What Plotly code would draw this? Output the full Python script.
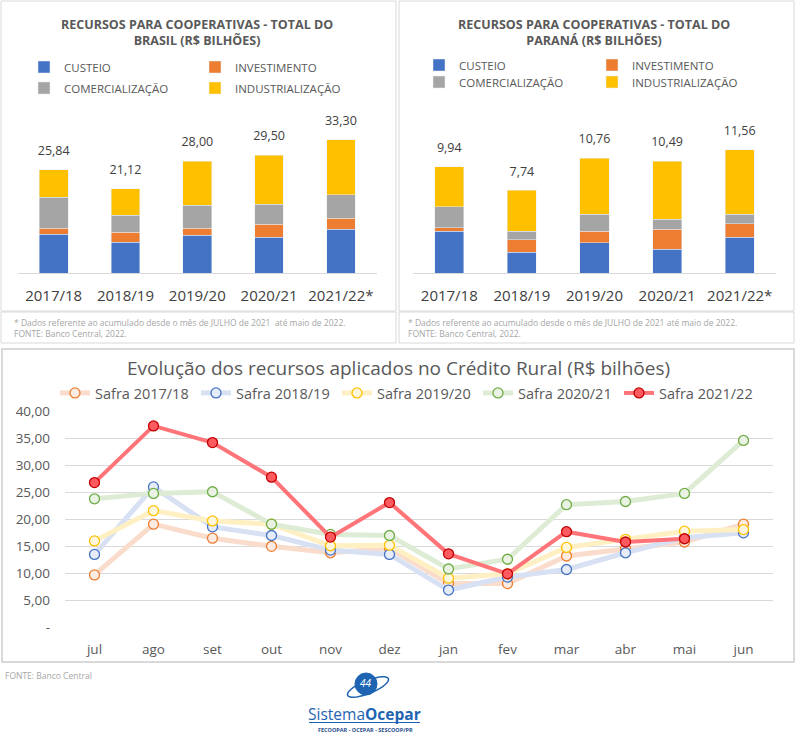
import plotly.graph_objects as go
import math

W, H = 798, 737
def X(p):
    return p / W
def Y(p):
    return 1 - p / H

# ---------------- data ----------------
seasons = ["2017/18", "2018/19", "2019/20", "2020/21", "2021/22*"]
cat_names = ["CUSTEIO", "INVESTIMENTO", "COMERCIALIZAÇÃO", "INDUSTRIALIZAÇÃO"]

br_custeio = [9.75, 7.67, 9.42, 9.00, 10.92]
br_invest = [1.42, 2.58, 1.75, 3.25, 2.75]
br_comerc = [7.83, 4.17, 5.75, 5.00, 5.92]
br_indust = [6.84, 6.70, 11.08, 12.25, 13.71]
br_total = [25.84, 21.12, 28.00, 29.50, 33.30]

pr_custeio = [3.91, 1.94, 2.84, 2.22, 3.34]
pr_invest = [0.34, 1.19, 1.07, 1.88, 1.29]
pr_comerc = [1.94, 0.78, 1.62, 0.93, 0.90]
pr_indust = [3.75, 3.83, 5.23, 5.46, 6.03]
pr_total = [9.94, 7.74, 10.76, 10.49, 11.56]

months = ["jul", "ago", "set", "out", "nov", "dez", "jan", "fev", "mar", "abr", "mai", "jun"]
safra_1718 = [9.7, 19.1, 16.5, 15.0, 13.8, 14.6, 8.1, 8.1, 13.2, 14.6, 15.8, 19.1]
safra_1819 = [13.5, 26.0, 18.6, 17.0, 14.3, 13.5, 6.9, 9.3, 10.7, 13.8, 16.6, 17.5]
safra_1920 = [16.0, 21.6, 19.7, 19.1, 15.1, 15.2, 9.1, 9.9, 14.8, 16.3, 17.8, 18.1]
safra_2021 = [23.8, 24.8, 25.1, 19.1, 17.2, 17.0, 10.8, 12.6, 22.7, 23.3, 24.8, 34.6]
safra_2122 = [26.8, 37.3, 34.2, 27.8, 16.7, 23.1, 13.6, 9.9, 17.7, 15.8, 16.4, None]
line_names = ["Safra 2017/18", "Safra 2018/19", "Safra 2019/20", "Safra 2020/21", "Safra 2021/22"]

y_tickvals = [0, 5, 10, 15, 20, 25, 30, 35, 40]
y_ticktext = ["-", "5,00", "10,00", "15,00", "20,00", "25,00", "30,00", "35,00", "40,00"]

# ---------------- styles ----------------
bar_colors = ["#4472C4", "#ED7D31", "#A5A5A5", "#FFC000"]
FONT = "Open Sans"
DARK = "#404040"
MID = "#595959"
LIGHT = "#A6A6A6"
BORDER = "#D9D9D9"

fig = go.Figure()

# ---- bar charts ----
br_series = [br_custeio, br_invest, br_comerc, br_indust]
pr_series = [pr_custeio, pr_invest, pr_comerc, pr_indust]
for i, (name, vals) in enumerate(zip(cat_names, br_series)):
    fig.add_trace(go.Bar(x=seasons, y=vals, name=name, marker_color=bar_colors[i],
                         xaxis="x", yaxis="y", legend="legend" if i < 2 else "legend2",
                         hoverinfo="skip"))
fig.add_trace(go.Scatter(x=seasons, y=br_total, mode="markers+text", xaxis="x", yaxis="y",
                         marker=dict(size=17, color="rgba(0,0,0,0)"),
                         texttemplate="%{y:.2f}", textposition="top center",
                         textfont=dict(size=12.5, color=DARK, family=FONT),
                         showlegend=False, hoverinfo="skip", cliponaxis=False))

for i, (name, vals) in enumerate(zip(cat_names, pr_series)):
    fig.add_trace(go.Bar(x=seasons, y=vals, name=name, marker_color=bar_colors[i],
                         xaxis="x2", yaxis="y2", legend="legend3" if i < 2 else "legend4",
                         hoverinfo="skip"))
fig.add_trace(go.Scatter(x=seasons, y=pr_total, mode="markers+text", xaxis="x2", yaxis="y2",
                         marker=dict(size=17, color="rgba(0,0,0,0)"),
                         texttemplate="%{y:.2f}", textposition="top center",
                         textfont=dict(size=12.5, color=DARK, family=FONT),
                         showlegend=False, hoverinfo="skip", cliponaxis=False))

# ---- line chart ----
line_series = [safra_1718, safra_1819, safra_1920, safra_2021, safra_2122]
line_colors = ["#F9DCCB", "#D7E1F3", "#FFF0C4", "#DEECD5", "#FF7478"]
marker_fill = ["#FCEBE0", "#E6EDF8", "#FFF7DD", "#EAF3E3", "#FF5A60"]
marker_edge = ["#ED7D31", "#4472C4", "#FFC000", "#70AD47", "#C00000"]
line_widths = [5, 5, 5, 5, 4]
for i, (name, vals) in enumerate(zip(line_names, line_series)):
    fig.add_trace(go.Scatter(x=months, y=vals, name=name, mode="lines+markers",
                             xaxis="x3", yaxis="y3", legend="legend5",
                             line=dict(color=line_colors[i], width=line_widths[i]),
                             marker=dict(size=10, color=marker_fill[i],
                                         line=dict(color=marker_edge[i], width=1.3)),
                             cliponaxis=False, hoverinfo="skip"))

# ---------------- layout ----------------
bar_x = dict(type="category", showgrid=False, showline=True, linecolor=BORDER, linewidth=1,
             ticks="", tickfont=dict(size=15, color=DARK, family=FONT), ticklabelstandoff=9,
             fixedrange=True)

legend_common = dict(orientation="h", xanchor="left", yanchor="middle", traceorder="normal",
                     bgcolor="rgba(0,0,0,0)", font=dict(size=11.5, color=MID, family=FONT),
                     itemclick=False, itemdoubleclick=False)

fig.update_layout(
    width=W, height=H, autosize=False,
    margin=dict(l=0, r=0, t=0, b=0, pad=0, autoexpand=False),
    paper_bgcolor="white", plot_bgcolor="white",
    separators=",.",
    font=dict(family=FONT, color=MID),
    barmode="stack", bargap=0.6,
    xaxis=dict(domain=[X(17.8), X(376.8)], anchor="y", **bar_x),
    yaxis=dict(domain=[Y(273), Y(113)], anchor="x", range=[0, 40], visible=False, fixedrange=True),
    xaxis2=dict(domain=[X(413), X(776)], anchor="y2", **bar_x),
    yaxis2=dict(domain=[Y(273), Y(113)], anchor="x2", range=[0, 15], visible=False, fixedrange=True),
    xaxis3=dict(domain=[X(65), X(773)], anchor="y3", type="category", range=[-0.5, 11.5],
                showgrid=False, showline=False, ticks="",
                tickfont=dict(size=13.5, color=MID, family=FONT),
                ticklabelstandoff=12, fixedrange=True),
    yaxis3=dict(domain=[Y(627.3), Y(411.3)], anchor="x3", range=[0, 40], showgrid=True,
                gridcolor=BORDER, gridwidth=1, zeroline=False, showline=False, ticks="",
                tickvals=y_tickvals, ticktext=y_ticktext,
                tickfont=dict(size=13.5, color=MID, family=FONT), ticklabelstandoff=14,
                fixedrange=True),
    legend=dict(x=X(24), y=Y(67), entrywidth=126, **legend_common),
    legend2=dict(x=X(24), y=Y(88), entrywidth=126, **legend_common),
    legend3=dict(x=X(419), y=Y(65), entrywidth=128, **legend_common),
    legend4=dict(x=X(419), y=Y(82), entrywidth=128, **legend_common),
    legend5=dict(orientation="h", xanchor="left", yanchor="middle", traceorder="normal",
                 x=X(55), y=Y(393), entrywidth=96, bgcolor="rgba(0,0,0,0)",
                 font=dict(size=14.5, color=MID, family=FONT),
                 itemclick=False, itemdoubleclick=False),
    showlegend=True,
)

# ---------------- panels (decoration) ----------------
def rect(x0, y0, x1, y1, width=1):
    fig.add_shape(type="rect", xref="paper", yref="paper",
                  x0=X(x0), x1=X(x1), y0=Y(y0), y1=Y(y1),
                  line=dict(color=BORDER, width=width), fillcolor="rgba(0,0,0,0)", layer="below")

rect(1, 1, 396, 311)
rect(1, 312, 396, 343)
rect(399, 1, 794, 311)
rect(399, 312, 794, 343)
rect(2, 349, 794, 662, width=2)

# ---------------- texts ----------------
def note(text, x, y, size, color, xanchor="center", family=FONT, **kw):
    fig.add_annotation(text=text, x=X(x), y=Y(y), xref="paper", yref="paper",
                       showarrow=False, xanchor=xanchor, yanchor="middle",
                       font=dict(size=size, color=color, family=family), **kw)

note("<b>RECURSOS PARA COOPERATIVAS - TOTAL DO<br>BRASIL (R$ BILHÕES)</b>", 197, 32, 12.5, MID,
     align="center")
note("<b>RECURSOS PARA COOPERATIVAS - TOTAL DO<br>PARANÁ (R$ BILHÕES)</b>", 594, 32, 12.5, MID,
     align="center")

foot1 = "* Dados referente ao acumulado desde o mês de JULHO de 2021  até maio de 2022."
note(foot1, 12, 322.5, 8.5, LIGHT, xanchor="left")
note("FONTE: Banco Central, 2022.", 12, 333.5, 8.5, LIGHT, xanchor="left")
note(foot1.replace("  ", " "), 406, 322.5, 8.5, LIGHT, xanchor="left")
note("FONTE: Banco Central, 2022.", 406, 333.5, 8.5, LIGHT, xanchor="left")

note("Evolução dos recursos aplicados no Crédito Rural (R$ bilhões)", 398, 368, 19, MID)
note("FONTE: Banco Central", 3, 675, 8.5, LIGHT, xanchor="left")

# ---------------- logo ----------------
BLUE = "#1F64B2"
fig.add_shape(type="circle", xref="paper", yref="paper", x0=X(355), x1=X(377), y0=Y(695), y1=Y(673),
              fillcolor=BLUE, line=dict(color=BLUE, width=1))
pts = []
cx, cy, rx, ry, ang = 368, 687, 22, 6.5, math.radians(-22)
for k in range(0, 361, 10):
    t = math.radians(k)
    ex, ey = rx * math.cos(t), ry * math.sin(t)
    px = cx + ex * math.cos(ang) - ey * math.sin(ang)
    py = cy + ex * math.sin(ang) + ey * math.cos(ang)
    pts.append((X(px), Y(py)))
path = "M " + " L ".join(f"{a:.5f},{b:.5f}" for a, b in pts) + " Z"
fig.add_shape(type="path", xref="paper", yref="paper", path=path,
              line=dict(color=BLUE, width=1.5), fillcolor="rgba(0,0,0,0)")
note("<i>44</i>", 366, 683, 10, "white")
note("Sistema<b>Ocepar</b>", 364.5, 714, 15.5, BLUE)
fig.add_shape(type="line", xref="paper", yref="paper", x0=X(309), x1=X(420), y0=Y(722.5), y1=Y(722.5),
              line=dict(color=BLUE, width=1))
note("<b>FECOOPAR - OCEPAR - SESCOOP/PR</b>", 365, 729.5, 5.5, "#1F4E8C")

fig.write_html("out.html", config={"displayModeBar": False})
